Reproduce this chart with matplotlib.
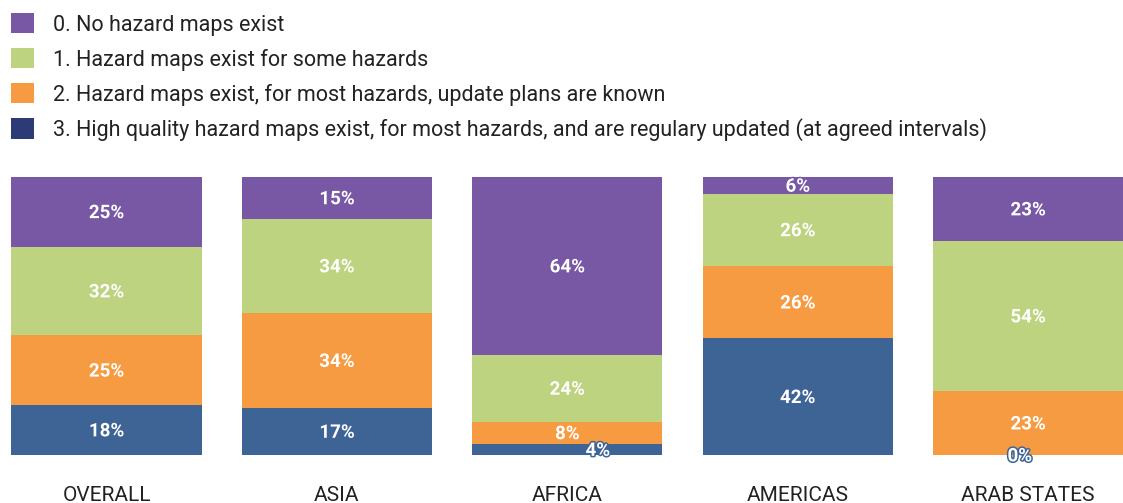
import numpy as np
import matplotlib
matplotlib.use("Agg")
import matplotlib.pyplot as plt
import matplotlib.patheffects as pe
from matplotlib.patches import Patch

plt.rcParams['font.family'] = ['Roboto', 'DejaVu Sans']

# ── data ──────────────────────────────────────
regions = ['OVERALL', 'ASIA', 'AFRICA', 'AMERICAS', 'ARAB STATES']
levels  = ['0. No hazard maps exist',
           '1. Hazard maps exist for some hazards',
           '2. Hazard maps exist, for most hazards, update plans are known',
           '3. High quality hazard maps exist, for most hazards, and are regulary updated (at agreed intervals)']

lvl0 = [25, 15, 64, 6, 23]
lvl1 = [32, 34, 24, 26, 54]
lvl2 = [25, 34, 8, 26, 23]
lvl3 = [18, 17, 4, 42, 0]

# ── style ─────────────────────────────────────
BAR_COLORS    = ['#7857a4', '#bdd37f', '#f69b41', '#3e6496']
LEGEND_COLORS = ['#7857a4', '#bdd37f', '#f69b41', '#2c3a75']
# small label nudges (points) for crowded segments: (region idx, level idx) -> dx
NUDGE = {(2, 3): 22, (4, 3): -6}

fig = plt.figure(figsize=(11.23, 5.03), dpi=100, facecolor='white')
ax = fig.add_axes([0, 48 / 503, 1, 278 / 503])

x = np.arange(len(regions))
width = 0.825
stack = [lvl3, lvl2, lvl1, lvl0]          # bottom -> top
stack_colors = BAR_COLORS[::-1]
stack_idx = [3, 2, 1, 0]

bottom = np.zeros(len(regions))
for vals, col, li in zip(stack, stack_colors, stack_idx):
    vals = np.array(vals, dtype=float)
    ax.bar(x, vals, width, bottom=bottom, color=col, linewidth=0)
    for i, v in enumerate(vals):
        dx = NUDGE.get((i, li), 0)
        ax.annotate(f"{int(v)}%", (x[i], bottom[i] + v / 2),
                    xytext=(dx, -1), textcoords='offset points',
                    ha='center', va='center', color='white',
                    fontsize=13.5, fontweight='bold',
                    path_effects=[pe.withStroke(linewidth=2.2, foreground=col)])
    bottom += vals

ax.set_xlim(-106.5 / 230.4, (1123 - 106.5) / 230.4)
ax.set_ylim(0, 100)
ax.set_xticks(x)
ax.set_xticklabels(regions, fontsize=15, color='#222222')
ax.tick_params(axis='x', length=0, pad=22)
ax.set_yticks([])
for s in ax.spines.values():
    s.set_visible(False)

handles = [Patch(facecolor=c, edgecolor='none') for c in LEGEND_COLORS]
fig.legend(handles, levels, loc='upper left', bbox_to_anchor=(11 / 1123, 1 - 13 / 503),
           frameon=False, fontsize=15.5, handlelength=1.08, handleheight=1.08,
           handletextpad=0.85, labelspacing=0.58, borderpad=0, borderaxespad=0,
           labelcolor='#222222')

fig.savefig('out.png', dpi=100, facecolor='white')
